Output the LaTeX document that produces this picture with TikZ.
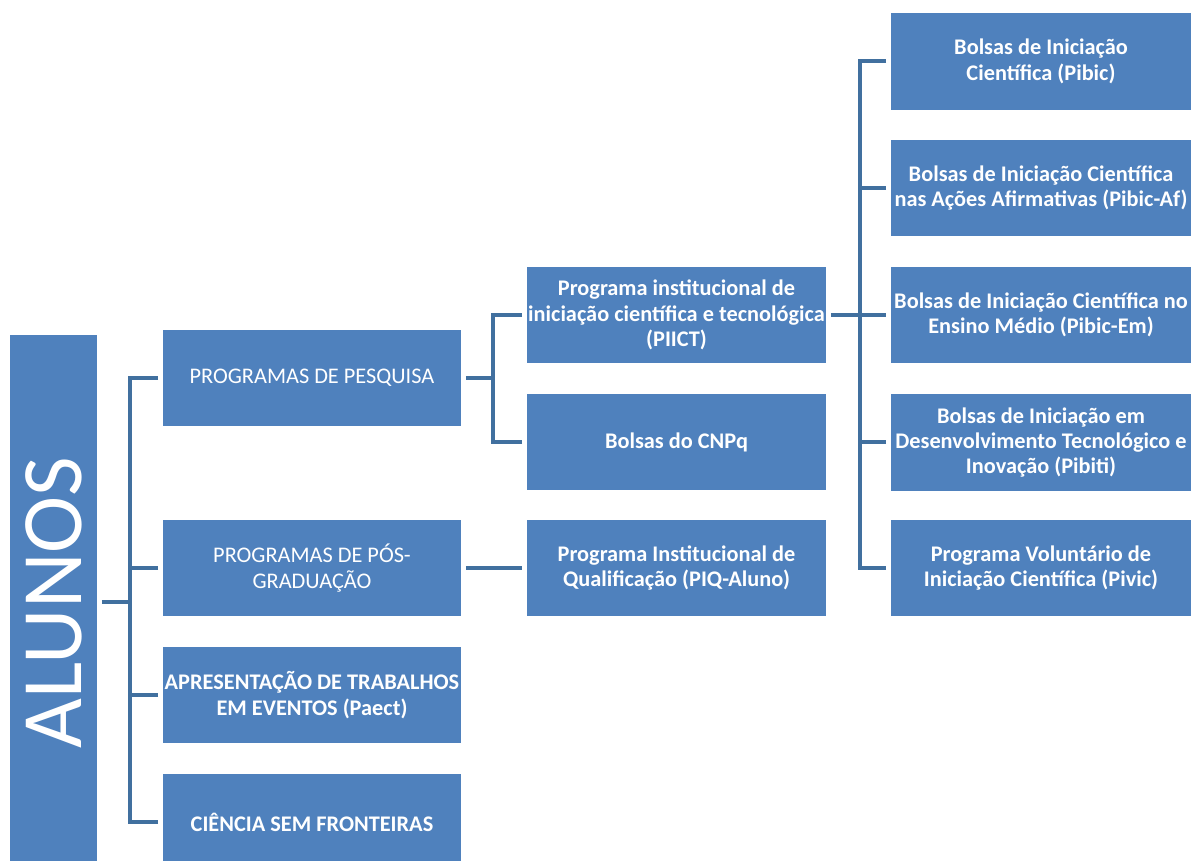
\documentclass[tikz,border=0pt]{standalone}
\usepackage{fontspec}
\setmainfont{Carlito}
\definecolor{boxblue}{HTML}{4F81BD}
\definecolor{lineblue}{HTML}{41709F}
\tikzset{
  box/.style={fill=boxblue, text=white, align=center, inner sep=0pt, outer sep=0.1cm,
    font=\fontsize{12.7}{14.4}\selectfont},
  grp/.style={box, minimum width=5.96cm, minimum height=1.92cm},
  prog/.style={box, minimum width=5.98cm, minimum height=1.92cm, font=\fontsize{12.7}{14.4}\selectfont\bfseries},
  bolsa/.style={box, minimum width=6cm, minimum height=1.94cm, font=\fontsize{12.7}{14.4}\selectfont\bfseries},
  link/.style={draw=lineblue, line width=0.08cm}
}

\begin{document}
\begin{tikzpicture}[x=0.02cm, y=-0.02cm]
  \clip (0,0) rectangle (1191,861);
  % root
  \node[box, minimum width=1.74cm, minimum height=10.7cm] (alunos) at (53.5,602.5)
    {\rotatebox{90}{\fontsize{49}{49}\selectfont ALUNOS}};
  % first level
  \node[grp] (pesq) at (312,378) {PROGRAMAS DE PESQUISA};
  \node[grp] (pos) at (312,568) {PROGRAMAS DE PÓS-\\GRADUAÇÃO};
  \node[grp, font=\fontsize{12.7}{14.4}\selectfont\bfseries] (apres) at (312,695) {APRESENTAÇÃO DE TRABALHOS\\EM EVENTOS (Paect)};
  \node[grp, font=\fontsize{12.7}{14.4}\selectfont\bfseries] (ciencia) at (312,822) {CIÊNCIA SEM FRONTEIRAS};
  % second level
  \node[prog] (piict) at (676.5,315) {Programa institucional de\\iniciação científica e tecnológica\\(PIICT)};
  \node[prog] (cnpq) at (676.5,442) {Bolsas do CNPq};
  \node[prog] (piq) at (676.5,568) {Programa Institucional de\\Qualificação (PIQ-Aluno)};
  % third level
  \node[bolsa] (pibic) at (1041,61.5) {Bolsas de Iniciação\\Científica (Pibic)};
  \node[bolsa] (af) at (1041,188) {Bolsas de Iniciação Científica\\nas Ações Afirmativas (Pibic-Af)};
  \node[bolsa] (em) at (1041,315) {Bolsas de Iniciação Científica no\\Ensino Médio (Pibic-Em)};
  \node[bolsa] (pibiti) at (1041,442.5) {Bolsas de Iniciação em\\Desenvolvimento Tecnológico e\\Inovação (Pibiti)};
  \node[bolsa] (pivic) at (1041,568) {Programa Voluntário de\\Iniciação Científica (Pivic)};

  \draw[link] (alunos.east) -- ++(0.56cm,0) coordinate (busA);
  \draw[link] (pesq.west) -| (busA);
  \draw[link] (ciencia.west) -| (busA);
  \draw[link] (pos.west) -- (pos.west -| busA);
  \draw[link] (apres.west) -- (apres.west -| busA);

  \draw[link] (pesq.east) -- ++(0.54cm,0) coordinate (busB);
  \draw[link] (piict.west) -| (busB);
  \draw[link] (cnpq.west) -| (busB);
  \draw[link] (pos.east) -- (piq.west);

  \path (piict.east) -- ++(0.58cm,0) coordinate (busC);
  \draw[link] (piict.east) -- (em.west);
  \draw[link] (pibic.west) -| (busC);
  \draw[link] (pivic.west) -| (busC);
  \draw[link] (af.west) -- (af.west -| busC);
  \draw[link] (pibiti.west) -- (pibiti.west -| busC);
\end{tikzpicture}
\end{document}
